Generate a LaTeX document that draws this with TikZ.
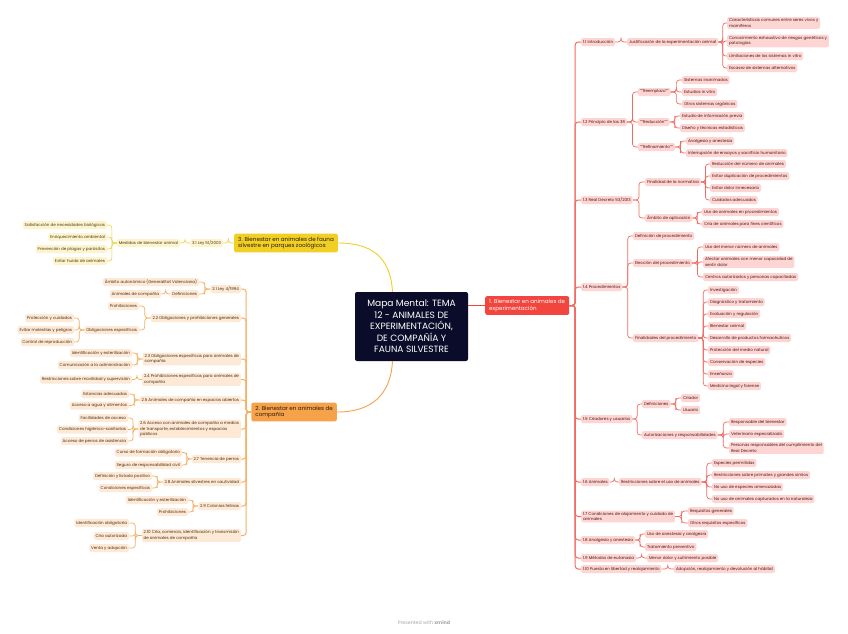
\documentclass[tikz,border=0pt]{standalone}
\usepackage{fontspec}
\setmainfont{Poppins}
\usepackage{tikz}
\usetikzlibrary{calc, positioning}
\usepackage{xcolor}
\definecolor{navy}{HTML}{0B0C2A}
\definecolor{redmain}{HTML}{F2453D}
\definecolor{redline}{HTML}{F36A62}
\definecolor{redlight}{HTML}{FDD6D4}
\definecolor{redtext}{HTML}{4E1310}
\definecolor{orangemain}{HTML}{F6A24A}
\definecolor{orangeline}{HTML}{F7B062}
\definecolor{orangelight}{HTML}{FDE9D6}
\definecolor{orangetext}{HTML}{4A2D12}
\definecolor{yellowmain}{HTML}{F1CF25}
\definecolor{yellowline}{HTML}{F2D44C}
\definecolor{yellowlight}{HTML}{FDF3CE}
\definecolor{yellowtext}{HTML}{4A3C0E}
\definecolor{darktext}{HTML}{2A1A08}

\newcommand{\rlink}[2]{\draw[rline] (#1.east) -| ($(#1.east)!0.5!(#2.west)$) |- (#2.west);}
\newcommand{\llink}[3]{\draw[#1] (#2.west) -| ($(#2.west)!0.5!(#3.east)$) |- (#3.east);}

\begin{document}
\begin{tikzpicture}[x=1pt, y=-1pt,
    box/.style={rounded corners=1.5pt, inner xsep=1.8pt, inner ysep=1.5pt, minimum height=8pt, align=left, font=\fontsize{4.05}{5.5}\selectfont},
    rnode/.style={box, fill=redlight, text=redtext, anchor=west},
    onode/.style={box, fill=orangelight, text=orangetext, anchor=east},
    ynode/.style={box, fill=yellowlight, text=yellowtext, anchor=east},
    branch/.style={rounded corners=2pt, inner xsep=4pt, inner ysep=3.2pt, align=left, font=\fontsize{5.6}{6.6}\selectfont},
    rline/.style={draw=redline, line width=0.7pt, rounded corners=3pt},
    oline/.style={draw=orangeline, line width=0.7pt, rounded corners=3pt},
    yline/.style={draw=yellowline, line width=0.7pt, rounded corners=3pt}]
    \fill[white] (0,0) rectangle (848,633);
    \useasboundingbox (0,0) rectangle (848,633);

    % centre and main branches
    \node[fill=navy, text=white, rounded corners=2pt, minimum width=113pt, minimum height=69pt, align=center, font=\fontsize{9.1}{11.5}\selectfont] (c) at (411.5,326.5) {Mapa Mental: TEMA\\12 - ANIMALES DE\\EXPERIMENTACIÓN,\\DE COMPAÑÍA Y\\FAUNA SILVESTRE};
    \node[branch, fill=redmain, text=white, anchor=west] (b1) at (485,305.5) {1. Bienestar en animales de\\experimentación};
    \node[branch, fill=orangemain, text=darktext, anchor=east] (b2) at (337,412) {2. Bienestar en animales de\\compañía};
    \node[branch, fill=yellowmain, text=darktext, anchor=east] (b3) at (338,243) {3. Bienestar en animales de fauna\\silvestre en parques zoológicos};

    \draw[redmain, line width=0.9pt] (c.east |- b1.west) -- (b1.west);
    \draw[orangemain, line width=0.9pt] ([xshift=-19pt]c.south) .. controls +(-2,36) and +(32,0) .. (b2.east);
    \draw[yellowmain, line width=0.9pt] ([xshift=-19pt]c.north) .. controls +(-2,-36) and +(32,0) .. (b3.east);

    % 1. experimentacion
    \node[rnode] (n11) at (581,42) {1.1 Introducción};
    \node[rnode] (n12) at (581,122) {1.2 Principio de las 3R};
    \node[rnode] (n13) at (581,200) {1.3 Real Decreto 53/2013};
    \node[rnode] (n14) at (581,287) {1.4 Procedimientos};
    \node[rnode] (n15) at (581,419) {1.5 Criadores y usuarios};
    \node[rnode] (n16) at (581,482) {1.6 Animales};
    \node[rnode] (n17) at (581,516.5) {1.7 Condiciones de alojamiento y cuidado de\\animales};
    \node[rnode] (n18) at (581,540) {1.8 Analgesia y anestesia};
    \node[rnode] (n19) at (581,558) {1.9 Métodos de eutanasia};
    \node[rnode] (n110) at (581,569) {1.10 Puesta en libertad y realojamiento};

    \node[rnode] (n11a) at (627,42) {Justificación de la experimentación animal};
    \node[rnode] (n11a1) at (727,23) {Características comunes entre seres vivos y\\mamíferos};
    \node[rnode] (n11a2) at (727,41) {Conocimiento exhaustivo de riesgos genéticos y\\patologías};
    \node[rnode] (n11a3) at (727,56) {Limitaciones de los sistemas in vitro};
    \node[rnode] (n11a4) at (727,68) {Escasez de sistemas alternativos};

    \node[rnode] (n12a) at (638,92) {""Reemplazo""};
    \node[rnode] (n12a1) at (682,80) {Sistemas inanimados};
    \node[rnode] (n12a2) at (682,92) {Estudios in vitro};
    \node[rnode] (n12a3) at (682,104) {Otros sistemas orgánicos};
    \node[rnode] (n12b) at (638,122) {""Reducción""};
    \node[rnode] (n12b1) at (680,116) {Estudio de información previa};
    \node[rnode] (n12b2) at (680,128) {Diseño y técnicas estadísticas};
    \node[rnode] (n12c) at (638,147) {""Refinamiento""};
    \node[rnode] (n12c1) at (686,141) {Analgesia y anestesia};
    \node[rnode] (n12c2) at (686,153) {Interrupción de ensayos y sacrificio humanitario};

    \node[rnode] (n13a) at (645,182) {Finalidad de la normativa};
    \node[rnode] (n13a1) at (710,164) {Reducción del número de animales};
    \node[rnode] (n13a2) at (710,176) {Evitar duplicación de procedimientos};
    \node[rnode] (n13a3) at (710,188) {Evitar dolor innecesario};
    \node[rnode] (n13a4) at (710,200) {Cuidados adecuados};
    \node[rnode] (n13b) at (645,218) {Ámbito de aplicación};
    \node[rnode] (n13b1) at (702,212) {Uso de animales en procedimientos};
    \node[rnode] (n13b2) at (702,224) {Cría de animales para fines científicos};

    \node[rnode] (n14a) at (633,236) {Definición de procedimiento};
    \node[rnode] (n14b) at (633,263) {Elección del procedimiento};
    \node[rnode] (n14b1) at (703,247) {Uso del menor número de animales};
    \node[rnode] (n14b2) at (703,262) {Afectar animales con menor capacidad de\\sentir dolor};
    \node[rnode] (n14b3) at (703,277) {Centros autorizados y personas capacitadas};
    \node[rnode] (n14c) at (633,338) {Finalidades del procedimiento};
    \foreach \t [count=\i] in {Investigación, Diagnóstico y tratamiento, Evaluación y regulación, Bienestar animal, Desarrollo de productos farmacéuticos, Protección del medio natural, Conservación de especies, Enseñanza, Medicina legal y forense}{
        \node[rnode] (n14c\i) at (708,278+12*\i) {\t};
    }

    \node[rnode] (n15a) at (642,404) {Definiciones};
    \node[rnode] (n15a1) at (681,398) {Criador};
    \node[rnode] (n15a2) at (681,410) {Usuario};
    \node[rnode] (n15b) at (642,435) {Autorizaciones y responsabilidades};
    \node[rnode] (n15b1) at (729,422) {Responsable del bienestar};
    \node[rnode] (n15b2) at (729,434) {Veterinario especializado};
    \node[rnode] (n15b3) at (729,448) {Personas responsables del cumplimiento del\\Real Decreto};

    \node[rnode] (n16a) at (619,482) {Restricciones sobre el uso de animales};
    \node[rnode] (n16a1) at (712,463) {Especies permitidas};
    \node[rnode] (n16a2) at (712,475) {Restricciones sobre primates y grandes simios};
    \node[rnode] (n16a3) at (712,487) {No uso de especies amenazadas};
    \node[rnode] (n16a4) at (712,499) {No uso de animales capturados en la naturaleza};

    \node[rnode] (n17a) at (688,511) {Requisitos generales};
    \node[rnode] (n17b) at (688,523) {Otros requisitos específicos};
    \node[rnode] (n18a) at (645,534) {Uso de anestesia y analgesia};
    \node[rnode] (n18b) at (645,547) {Tratamiento preventivo};
    \node[rnode] (n19a) at (647,558) {Menor dolor y sufrimiento posible};
    \node[rnode] (n110a) at (674,569) {Adopción, realojamiento y devolución al hábitat};

    \begin{scope}[rline/.append style={line width=1pt}]
        \foreach \q in {n11,n12,n13,n14,n15,n16,n17,n18,n19,n110}{
            \rlink{b1}{\q}
        }
    \end{scope}
    \foreach \p/\q in {n11/n11a, n11a/n11a1, n11a/n11a2, n11a/n11a3, n11a/n11a4,
        n12/n12a, n12/n12b, n12/n12c, n12a/n12a1, n12a/n12a2, n12a/n12a3,
        n12b/n12b1, n12b/n12b2, n12c/n12c1, n12c/n12c2,
        n13/n13a, n13/n13b, n13a/n13a1, n13a/n13a2, n13a/n13a3, n13a/n13a4, n13b/n13b1, n13b/n13b2,
        n14/n14a, n14/n14b, n14/n14c, n14b/n14b1, n14b/n14b2, n14b/n14b3,
        n14c/n14c1, n14c/n14c2, n14c/n14c3, n14c/n14c4, n14c/n14c5, n14c/n14c6, n14c/n14c7, n14c/n14c8, n14c/n14c9,
        n15/n15a, n15/n15b, n15a/n15a1, n15a/n15a2, n15b/n15b1, n15b/n15b2, n15b/n15b3,
        n16/n16a, n16a/n16a1, n16a/n16a2, n16a/n16a3, n16a/n16a4,
        n17/n17a, n17/n17b, n18/n18a, n18/n18b, n19/n19a, n110/n110a}{
        \rlink{\p}{\q}
    }

    % 2. compania
    \node[onode] (m21) at (241,289) {2.1 Ley 4/1994};
    \node[onode] (m21a) at (199,282) {Ámbito autonómico (Generalitat Valenciana)};
    \node[onode] (m21b) at (199,294) {Definiciones};
    \node[onode] (m21b1) at (161,294) {Animales de compañía};
    \node[onode] (m22) at (241,318) {2.2 Obligaciones y prohibiciones generales};
    \node[onode] (m22a) at (139,306) {Prohibiciones};
    \node[onode] (m22b) at (139,330) {Obligaciones específicas};
    \node[onode] (m22b1) at (74,318) {Protección y cuidados};
    \node[onode] (m22b2) at (74,330) {Evitar molestias y peligros};
    \node[onode] (m22b3) at (74,342) {Control de reproducción};
    \node[onode] (m23) at (241,359) {2.3 Obligaciones específicas para animales de\\compañía};
    \node[onode] (m23a) at (132,353) {Identificación y esterilización};
    \node[onode] (m23b) at (132,365) {Comunicación a la administración};
    \node[onode] (m24) at (241,379.5) {2.4 Prohibiciones específicas para animales de\\compañía};
    \node[onode] (m24a) at (132,379.5) {Restricciones sobre movilidad y supervisión};
    \node[onode] (m25) at (241,400) {2.5 Animales de compañía en espacios abiertos};
    \node[onode] (m25a) at (129,394) {Estancias adecuadas};
    \node[onode] (m25b) at (129,405.5) {Acceso a agua y alimentos};
    \node[onode] (m26) at (241,429) {2.6 Acceso con animales de compañía a medios\\de transporte, establecimientos y espacios\\públicos};
    \node[onode] (m26a) at (128,418) {Facilidades de acceso};
    \node[onode] (m26b) at (128,429.5) {Condiciones higiénico-sanitarias};
    \node[onode] (m26c) at (128,441) {Acceso de perros de asistencia};
    \node[onode] (m27) at (241,459) {2.7 Tenencia de perros};
    \node[onode] (m27a) at (182,452.5) {Curso de formación obligatorio};
    \node[onode] (m27b) at (182,465) {Seguro de responsabilidad civil};
    \node[onode] (m28) at (241,482) {2.8 Animales silvestres en cautividad};
    \node[onode] (m28a) at (152,476) {Definición y listado positivo};
    \node[onode] (m28b) at (152,488) {Condiciones específicas};
    \node[onode] (m29) at (241,506) {2.9 Colonias felinas};
    \node[onode] (m29a) at (188,500) {Identificación y esterilización};
    \node[onode] (m29b) at (188,512) {Prohibiciones};
    \node[onode] (m210) at (241,535.5) {2.10 Cría, comercio, identificación y transmisión\\de animales de compañía};
    \node[onode] (m210a) at (129,523) {Identificación obligatoria};
    \node[onode] (m210b) at (129,536) {Cría autorizada};
    \node[onode] (m210c) at (129,548) {Venta y adopción};

    \begin{scope}[oline/.append style={line width=1pt}]
        \foreach \q in {m21,m22,m23,m24,m25,m26,m27,m28,m29,m210}{
            \llink{oline}{b2}{\q}
        }
    \end{scope}
    \foreach \p/\q in {m21/m21a, m21/m21b, m21b/m21b1, m22/m22a, m22/m22b, m22b/m22b1, m22b/m22b2, m22b/m22b3,
        m23/m23a, m23/m23b, m24/m24a, m25/m25a, m25/m25b, m26/m26a, m26/m26b, m26/m26c,
        m27/m27a, m27/m27b, m28/m28a, m28/m28b, m29/m29a, m29/m29b, m210/m210a, m210/m210b, m210/m210c}{
        \llink{oline}{\p}{\q}
    }

    % 3. fauna silvestre
    \node[ynode] (m31) at (223,243) {3.1 Ley 51/2003};
    \node[ynode] (m31a) at (180,243) {Medidas de bienestar animal};
    \node[ynode] (m31a1) at (107,225) {Satisfacción de necesidades biológicas};
    \node[ynode] (m31a2) at (107,237) {Enriquecimiento ambiental};
    \node[ynode] (m31a3) at (107,249) {Prevención de plagas y parásitos};
    \node[ynode] (m31a4) at (107,261) {Evitar huida de animales};
    \foreach \p/\q in {b3/m31, m31/m31a, m31a/m31a1, m31a/m31a2, m31a/m31a3, m31a/m31a4}{
        \llink{yline}{\p}{\q}
    }

    \node[text=black!35, font=\fontsize{4.8}{5}\selectfont] (foot) at (424,623) {Presented with \textbf{xmind}};
\end{tikzpicture}
\end{document}
